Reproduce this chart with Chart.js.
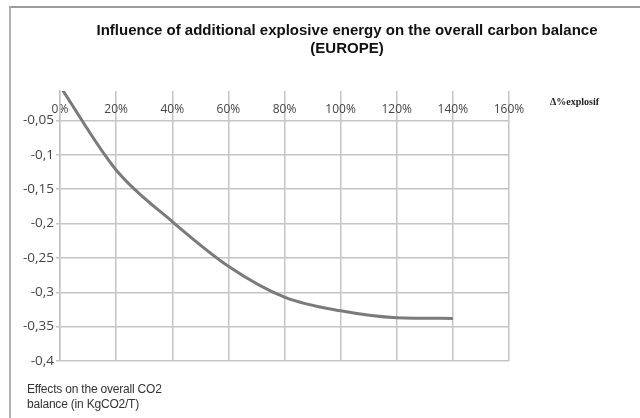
<!DOCTYPE html>
<html>
<head>
<meta charset="utf-8">
<script src="https://cdn.jsdelivr.net/npm/chart.js@4"></script>
<style>
  html, body { margin: 0; padding: 0; background: #fff; }
  #wrap { position: relative; width: 640px; height: 418px; overflow: hidden; }
  #frame { position: absolute; left: 9px; top: 6px; width: 640px; height: 420px;
           border-top: 2px solid #9c9c9c; border-left: 2px solid #b4b4b4; }
  canvas { position: absolute; left: 0; top: 0; }
  .title { position: absolute; left: 347px; transform: translateX(-50%); white-space: nowrap;
           font: bold 15px "Liberation Sans", Arial, sans-serif; color: #111; text-align: center; letter-spacing: 0px; }
  #xtitle { position: absolute; left: 550px; top: 96px; font: bold 10px "Liberation Serif", serif; color: #222; white-space: nowrap; }
  #ytitle { position: absolute; left: 27px; top: 382px; font: 12px "Liberation Sans", Arial, sans-serif; color: #333; line-height: 15px; letter-spacing: -0.2px; }
</style>
</head>
<body>
<div id="wrap">
  <div id="frame"></div>
  <canvas id="c" width="640" height="418"></canvas>
  <div class="title" id="t1" style="top:21px">Influence of additional explosive energy on the overall carbon balance</div>
  <div class="title" id="t2" style="top:39px">(EUROPE)</div>
  <div id="xtitle">Δ%explosif</div>
  <div id="ytitle">Effects on the overall CO2<br>balance (in KgCO2/T)</div>
</div>
<script>
// Data
const explosiveIncrease = [0, 0.2, 0.4, 0.6, 0.8, 1.0, 1.2, 1.4];           // Δ% explosif (fraction)
const carbonEffect = [0, -0.122, -0.197, -0.262, -0.307, -0.327, -0.337, -0.338]; // KgCO2/T
const xTickValues = [0, 0.2, 0.4, 0.6, 0.8, 1.0, 1.2, 1.4, 1.6];
const yTickValues = [-0.05, -0.1, -0.15, -0.2, -0.25, -0.3, -0.35, -0.4];

const points = explosiveIncrease.map((x, i) => ({ x: x, y: carbonEffect[i] }));

new Chart(document.getElementById('c'), {
  type: 'line',
  data: {
    datasets: [{
      data: points,
      borderColor: '#7a7a7a',
      borderWidth: 3,
      pointRadius: 0,
      cubicInterpolationMode: 'monotone',
      fill: false,
      clip: 0
    }]
  },
  options: {
    responsive: false,
    animation: false,
    devicePixelRatio: 1,
    layout: { padding: { left: 10, right: 131, top: 91, bottom: 57 } },
    plugins: { legend: { display: false }, tooltip: { enabled: false }, title: { display: false } },
    scales: {
      x: {
        type: 'linear',
        position: { y: -0.007 },
        min: 0, max: 1.6,
        afterBuildTicks: (s) => { s.ticks = xTickValues.map(v => ({ value: v })); },
        ticks: {
          padding: 11,
          color: '#444',
          font: { family: "'Open Sans', sans-serif", size: 12 },
          callback: (v) => Math.round(v * 100) + '%'
        },
        grid: { color: '#c4c4c4', lineWidth: 1.5, drawTicks: false },
        border: { display: false }
      },
      y: {
        type: 'linear',
        position: 'left',
        min: -0.4, max: -0.007,
        afterBuildTicks: (s) => { s.ticks = yTickValues.map(v => ({ value: v })); },
        afterFit: (s) => { s.width = 50; },
        ticks: {
          padding: 2,
          color: '#444',
          font: { family: "'Open Sans', sans-serif", size: 13.5 },
          callback: (v) => String(Math.round(v * 100) / 100).replace('.', ',')
        },
        grid: { color: '#c4c4c4', lineWidth: 1.5, tickLength: 4 },
        border: { display: true, color: '#c4c4c4', width: 1.5 }
      }
    }
  }
});
</script>
</body>
</html>
